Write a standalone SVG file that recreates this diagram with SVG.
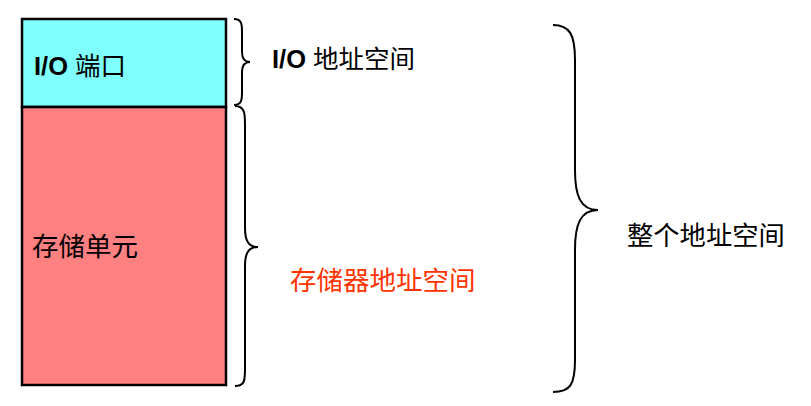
<svg xmlns="http://www.w3.org/2000/svg" width="811" height="406" viewBox="0 0 811 406">
<style>
.box{stroke:#000;stroke-width:2.5}
.brace{fill:none;stroke:#000;stroke-width:2}
.t{font-family:"Liberation Sans","Noto Sans CJK SC",sans-serif;fill:#000}
.b{font-weight:bold}
</style>
<rect width="811" height="406" fill="#fff"/>
<g id="io-port">
<rect class="box" x="22" y="19" width="204" height="88" fill="#80FFFF"/>
<text class="t" x="34" y="75" font-size="25.5"><tspan class="b">I/O</tspan> 端口</text>
</g>
<g id="storage">
<rect class="box" x="22" y="107" width="204" height="278" fill="#FF8080"/>
<text class="t" x="32" y="256" font-size="26.5">存储单元</text>
</g>
<g id="connectors">
<path class="brace" d="M234,19 C242,19 242,25 242,32 L242,52 C242,58 244,62 250,62 C244,62 242,66 242,72 L242,92 C242,99 242,105 234,105"/>
<path class="brace" d="M235,106 C245,106 245,114 245,125 L245,228 C245,240 248,247 258,247 C248,247 245,254 245,266 L245,368 C245,380 245,386 235,386"/>
<path class="brace" d="M553,25 C570,25 575,35 575,60 L575,170 C575,195 580,210 598,210 C580,210 575,225 575,250 L575,360 C575,385 570,392 553,392"/>
</g>
<g id="io-space"><text class="t" x="272" y="68" font-size="25.5"><tspan class="b">I/O</tspan> 地址空间</text></g>
<g id="mem-space"><text class="t" x="290" y="290" font-size="26.5" style="fill:#FF3300">存储器地址空间</text></g>
<g id="whole-space"><text class="t" x="627" y="245" font-size="26.3">整个地址空间</text></g>
</svg>
